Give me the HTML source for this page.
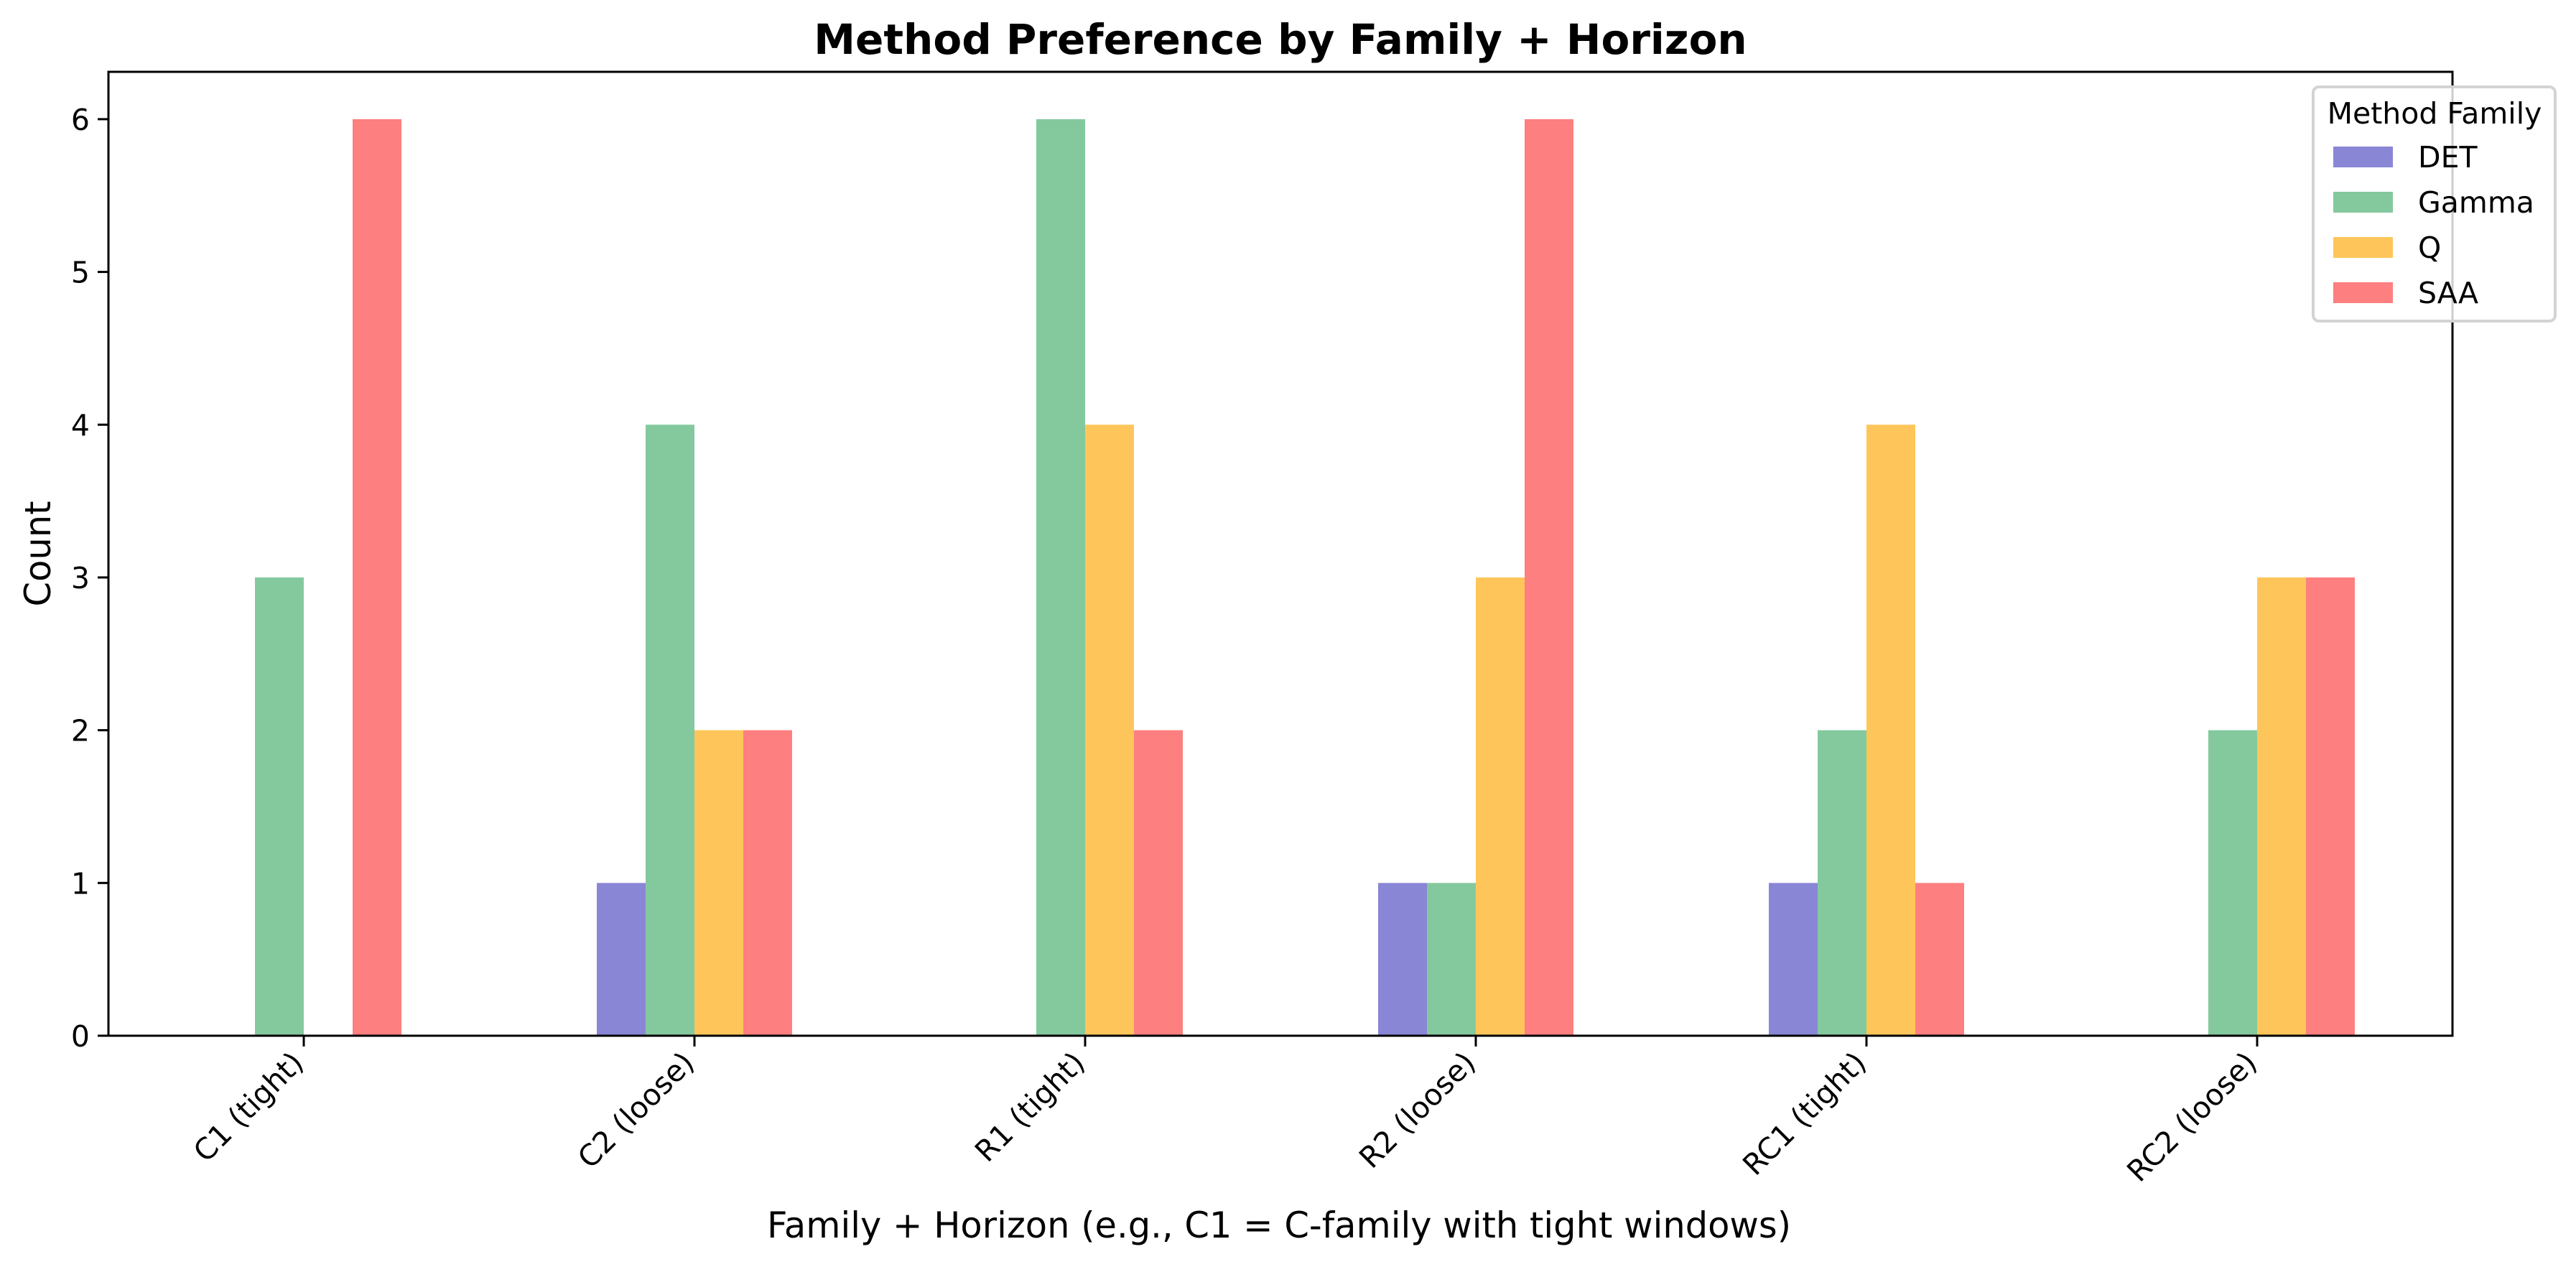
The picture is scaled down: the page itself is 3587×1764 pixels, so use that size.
<!DOCTYPE html>
<html><head><meta charset="utf-8"><style>
html,body{margin:0;padding:0;background:#fff;}
svg{display:block;font-family:"DejaVu Sans","Liberation Sans",sans-serif;}
</style></head><body>
<svg id="chart" width="3587" height="1764" viewBox="0 0 3587 1764" xmlns="http://www.w3.org/2000/svg">
<rect width="3587" height="1764" fill="#fff"/>
<text x="1783" y="75" text-anchor="middle" font-size="58" font-weight="bold">Method Preference by Family + Horizon</text>
<g id="bars"></g>
<g id="axes"></g>
<text x="1781" y="1723" text-anchor="middle" font-size="49.5">Family + Horizon (e.g., C1 = C-family with tight windows)</text>
<text transform="translate(70,771) rotate(-90)" text-anchor="middle" font-size="49.5">Count</text>
<g id="legend">
<rect x="3221" y="121" width="337" height="326" rx="8" fill="#fff" fill-opacity="0.8" stroke="#d3d3d3" stroke-width="4"/>
<text x="3390" y="172" text-anchor="middle" font-size="41">Method Family</text>
</g>
</svg>
<script>
const categories = ["C1 (tight)","C2 (loose)","R1 (tight)","R2 (loose)","RC1 (tight)","RC2 (loose)"];
const seriesNames = ["DET","Gamma","Q","SAA"];
const seriesColors = ["#8a86d6","#84c99e","#fec65a","#fe7f7f"];
const detValues = [0,1,0,1,1,0];
const gammaValues = [3,4,6,1,2,2];
const qValues = [0,2,4,3,4,3];
const saaValues = [6,2,2,6,1,3];
const yTicks = [0,1,2,3,4,5,6];
const series = [detValues, gammaValues, qValues, saaValues];

const NS = "http://www.w3.org/2000/svg";
const L = 151, R = 3415, T = 100, B = 1442;
const yMax = 6.31;
function xScale(i){ return L + (i + 0.5) / categories.length * (R - L); }
function yScale(v){ return B - v / yMax * (B - T); }
const groupW = (R - L) / categories.length;
const barW = groupW * 0.5 / series.length;

function mk(tag, attrs, parent){
  const e = document.createElementNS(NS, tag);
  for (const k in attrs) e.setAttribute(k, attrs[k]);
  parent.appendChild(e);
  return e;
}
const bars = document.getElementById('bars');
series.forEach((vals, s) => {
  vals.forEach((v, i) => {
    if (v <= 0) return;
    const x = xScale(i) + (s - series.length / 2) * barW;
    const r = mk('rect', {x: x, y: yScale(v), width: barW, height: yScale(0) - yScale(v), fill: seriesColors[s]}, bars);
    
    
  });
});

const axes = document.getElementById('axes');
const frame = mk('rect', {x: L, y: T, width: R - L, height: B - T, fill: 'none', stroke: '#000', 'stroke-width': 3}, axes);


yTicks.forEach(t => {
  const y = yScale(t);
  const ln = mk('line', {x1: L - 15, x2: L, y1: y, y2: y, stroke: '#000', 'stroke-width': 3}, axes);
  
  
  const tx = mk('text', {x: L - 26, y: y + 15, 'text-anchor': 'end', 'font-size': 41}, axes);
  tx.textContent = t;
  
  
});
categories.forEach((c, i) => {
  const x = xScale(i);
  const ln = mk('line', {x1: x, x2: x, y1: B, y2: B + 15, stroke: '#000', 'stroke-width': 3}, axes);
  
  
  const tx = mk('text', {transform: 'translate(' + (x + 2) + ',' + (B + 40) + ') rotate(-45)', 'text-anchor': 'end', 'font-size': 41}, axes);
  tx.textContent = c;
  
  
});

const legend = document.getElementById('legend');
seriesNames.forEach((n, s) => {
  const cy = 218 + s * 63;
  const sw = mk('rect', {x: 3249, y: cy - 14, width: 83, height: 29, fill: seriesColors[s]}, legend);
  
  
  const tx = mk('text', {x: 3367, y: cy + 15, 'font-size': 41}, legend);
  tx.textContent = n;
  
  
});
</script>
</body></html>
